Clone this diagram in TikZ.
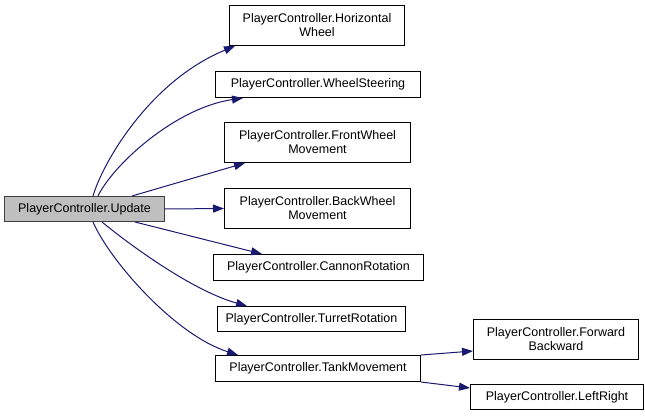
\documentclass[tikz,border=0pt]{standalone}
\usepackage{fontspec}
\setmainfont{Liberation Sans}
\usetikzlibrary{arrows.meta}
\definecolor{edgeblue}{HTML}{191970}
\definecolor{boxgray}{HTML}{BFBFBF}
\definecolor{bordergray}{HTML}{404040}
\begin{document}
\begin{tikzpicture}[x=1pt,y=-1pt,
  box/.style={draw=black, line width=1pt, fill=white, anchor=north west, inner sep=0pt, align=center, font=\fontsize{12.5}{14}\selectfont},
  edge/.style={draw=edgeblue, line width=1pt, -{Triangle[length=11pt,width=8pt]}}]
\useasboundingbox[fill=white] (0,0) rectangle (645,417);
\node[box, fill=boxgray, draw=bordergray, minimum width=160pt, minimum height=25pt] (u) at (4,196) {PlayerController.Update};
\node[box, minimum width=175pt, minimum height=40pt] (hw) at (229,5) {PlayerController.Horizontal\\Wheel};
\node[box, minimum width=205pt, minimum height=26pt] (ws) at (215,71) {PlayerController.WheelSteering};
\node[box, minimum width=186pt, minimum height=40pt] (fwm) at (224,122) {PlayerController.FrontWheel\\Movement};
\node[box, minimum width=186pt, minimum height=40pt] (bwm) at (224,188) {PlayerController.BackWheel\\Movement};
\node[box, minimum width=210pt, minimum height=26pt] (cr) at (213,254) {PlayerController.CannonRotation};
\node[box, minimum width=188pt, minimum height=25pt] (tr) at (217,306) {PlayerController.TurretRotation};
\node[box, minimum width=205pt, minimum height=26pt] (tm) at (215,355) {PlayerController.TankMovement};
\node[box, minimum width=165pt, minimum height=40pt] (fb) at (473,319) {PlayerController.Forward\\Backward};
\node[box, minimum width=173pt, minimum height=25pt] (lr) at (470,384) {PlayerController.LeftRight};
\draw[edge] ([xshift=89pt]u.north west) .. controls +(10,-34) and +(-85,35) .. ([xshift=6pt]hw.south west);
\draw[edge] ([xshift=94pt]u.north west) .. controls +(15,-31) and +(-68,10) .. ([xshift=28pt]ws.south west);
\draw[edge] ([xshift=128pt]u.north west) -- ([xshift=21pt]fwm.south west);
\draw[edge] (u.east) -- (bwm.west);
\draw[edge] ([xshift=131pt]u.south west) -- ([xshift=49pt]cr.north west);
\draw[edge] ([xshift=98pt]u.south west) .. controls +(23,19) and +(-57,-16) .. ([xshift=30pt]tr.north west);
\draw[edge] ([xshift=89pt]u.south west) .. controls +(17,39) and +(-63,-20) .. ([xshift=23pt]tm.north west);
\draw[edge] (tm.north east) -- ([yshift=9pt]fb.south west);
\draw[edge] (tm.south east) -- ([yshift=-4pt]lr.north west);
\end{tikzpicture}
\end{document}
